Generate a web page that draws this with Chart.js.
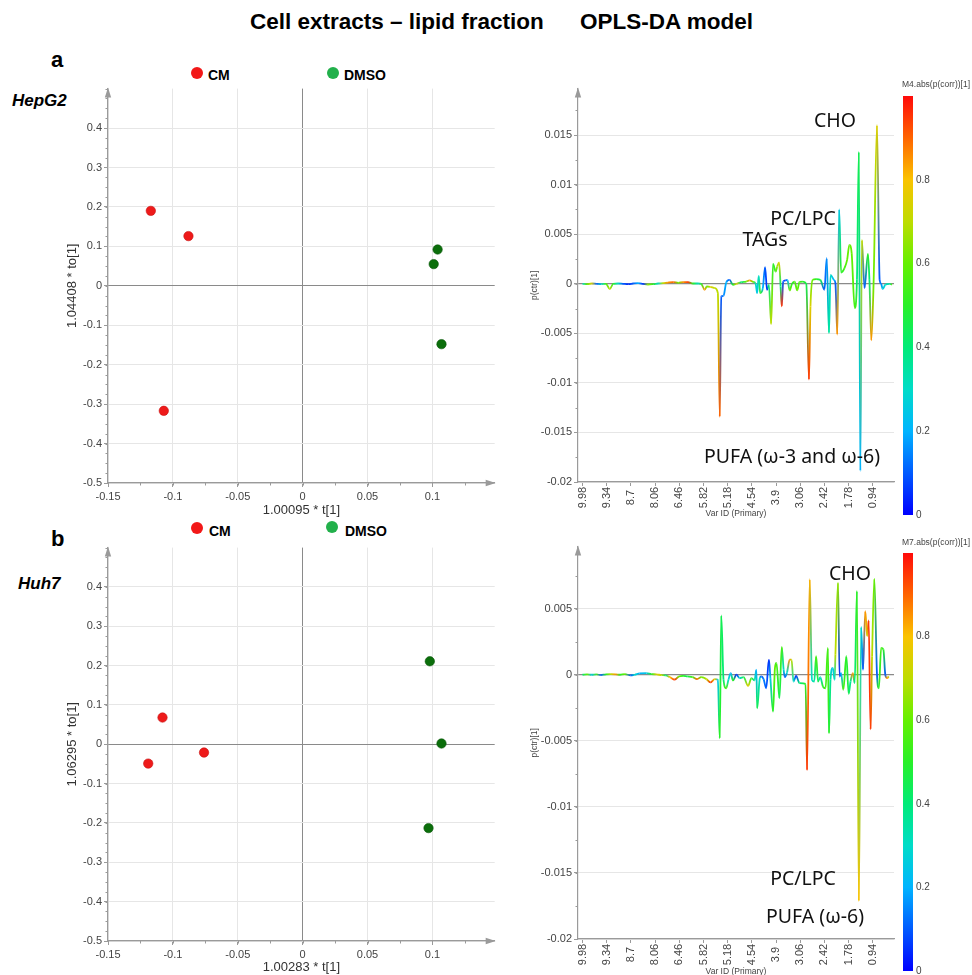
<!DOCTYPE html>
<html>
<head>
<meta charset="utf-8">
<script src="https://cdn.jsdelivr.net/npm/chart.js@4.4.1/dist/chart.umd.min.js"></script>
<style>
  html, body { margin: 0; padding: 0; background: #fff; }
  body { width: 972px; height: 975px; position: relative; overflow: hidden; font-family: 'Liberation Sans', Arial, sans-serif; }
  canvas { position: absolute; }
  .t { position: absolute; white-space: nowrap; line-height: 1; color: #000; transform: translateY(-50%); }
  .title { font-weight: bold; font-size: 22.5px; }
  .panel { font-weight: bold; font-size: 22px; }
  .cell { font-weight: bold; font-style: italic; font-size: 17px; }
  .leg { font-weight: bold; font-size: 14px; }
  .dot { position: absolute; width: 12px; height: 12px; border-radius: 50%; transform: translate(-50%, -50%); }
  .ann { position: absolute; white-space: nowrap; font-family: 'Noto Sans', sans-serif; font-size: 19.5px; line-height: 1; color: #111; transform: translate(-50%, -50%); }
</style>
</head>
<body>
<div class="t title" style="left:250px; top:22px">Cell extracts – lipid fraction</div>
<div class="t title" style="left:580px; top:22px">OPLS-DA model</div>

<div class="t panel" style="left:51px; top:60px">a</div>
<div class="t cell" style="left:12px; top:100px">HepG2</div>
<div class="dot" style="left:197px; top:73px; background:#f21818"></div>
<div class="t leg" style="left:208px; top:75px">CM</div>
<div class="dot" style="left:333px; top:73px; background:#22b04b"></div>
<div class="t leg" style="left:344px; top:75px">DMSO</div>

<div class="t panel" style="left:51px; top:539px">b</div>
<div class="t cell" style="left:18px; top:583px">Huh7</div>
<div class="dot" style="left:197px; top:528px; background:#f21818"></div>
<div class="t leg" style="left:209px; top:531px">CM</div>
<div class="dot" style="left:332px; top:527px; background:#22b04b"></div>
<div class="t leg" style="left:345px; top:531px">DMSO</div>

<canvas id="scoreA" width="500" height="450" style="left:0px; top:80px"></canvas>
<canvas id="loadA" width="472" height="450" style="left:500px; top:80px"></canvas>
<canvas id="scoreB" width="500" height="436" style="left:0px; top:539px"></canvas>
<canvas id="loadB" width="472" height="455" style="left:500px; top:538px"></canvas>

<div class="ann" style="left:835px; top:120px">CHO</div>
<div class="ann" style="left:803px; top:218px">PC/LPC</div>
<div class="ann" style="left:765px; top:239px">TAGs</div>
<div class="ann" style="left:792px; top:456px">PUFA (ω-3 and ω-6)</div>
<div class="ann" style="left:850px; top:573px">CHO</div>
<div class="ann" style="left:803px; top:878px">PC/LPC</div>
<div class="ann" style="left:815px; top:916px">PUFA (ω-6)</div>

<script>
// ---------- data ----------
const scoreXTicks = [-0.15, -0.1, -0.05, 0, 0.05, 0.1];
const scoreXLabels = ['-0.15', '-0.1', '-0.05', '0', '0.05', '0.1'];
const scoreYTicks = [-0.5, -0.4, -0.3, -0.2, -0.1, 0, 0.1, 0.2, 0.3, 0.4];
const scoreYLabels = ['-0.5', '-0.4', '-0.3', '-0.2', '-0.1', '0', '0.1', '0.2', '0.3', '0.4'];

// HepG2 scores
const hepCmX = [-0.117, -0.088, -0.107];
const hepCmY = [0.190, 0.126, -0.317];
const hepDmsoX = [0.104, 0.101, 0.107];
const hepDmsoY = [0.092, 0.055, -0.148];
// Huh7 scores
const huhCmX = [-0.108, -0.076, -0.119];
const huhCmY = [0.068, -0.021, -0.049];
const huhDmsoX = [0.098, 0.107, 0.097];
const huhDmsoY = [0.211, 0.002, -0.213];

// loadings: variable (bucket) index on x, labelled with ppm
const varIdTicks = [0, 64, 128, 192, 256, 320, 384, 448, 512, 576, 640, 704, 768];
const varIdLabels = ['9.98', '9.34', '8.7', '8.06', '6.46', '5.82', '5.18', '4.54', '3.9', '3.06', '2.42', '1.78', '0.94'];
const hepLoadYTicks = [-0.02, -0.015, -0.01, -0.005, 0, 0.005, 0.01, 0.015];
const hepLoadYLabels = ['-0.02', '-0.015', '-0.01', '-0.005', '0', '0.005', '0.01', '0.015'];
const huhLoadYTicks = [-0.02, -0.015, -0.01, -0.005, 0, 0.005];
const huhLoadYLabels = ['-0.02', '-0.015', '-0.01', '-0.005', '0', '0.005'];
const corrBarTicks = [0, 0.2, 0.4, 0.6, 0.8];
const corrBarLabels = ['0', '0.2', '0.4', '0.6', '0.8'];

const hepVar = [0, 12, 24, 37, 50, 62, 72, 81, 94, 107, 121, 134, 147, 160, 173, 187, 200, 213, 226, 240,
  253, 266, 279, 292, 306, 314, 323, 329, 338, 350, 358, 363, 367, 373, 380, 389, 398, 407, 420, 433,
  442, 451, 458, 462, 466, 470, 477, 483, 488, 493, 499, 504, 511, 515, 520, 524, 527, 531, 537, 542,
  548, 554, 561, 568, 574, 583, 592, 599, 603, 609, 618, 629, 640, 646, 652, 656, 665, 669, 674, 679,
  684, 693, 700, 706, 712, 720, 726, 731, 735, 739, 746, 755, 759, 764, 770, 779, 786, 790, 794, 801,
  812, 819];
const hepPctr = [0, -0.00003, 0.00003, 0, -0.00003, 0, -0.00054, 0, 0.00003, 0, -0.00003, 0.00003, 0.00007, 0, -0.00007, -0.00003, 0.00003, 0.00007, 0.00013, 0.00017,
  0.0001, 0.00017, 0.00017, 0.00003, 0.00003, 0, -0.0006, -0.00027, -0.0003, -0.00044, -0.00094, -0.01342, -0.00128, -0.00121, 0.00013, 0.0004, -0.0001, 0, 0.00017, 0.00023,
  0.00034, 0.0002, 0, -0.00094, 0.00081, -0.00094, -0.00044, 0.00168, -0.0006, -0.0001, -0.00406, 0.00201, 0.00124, 0.00175, 0.00215, -0.00027, -0.00228, 0.00023, 0.00034, 0.0004,
  -0.00067, 0, 0.00023, -0.00067, 0.0002, 0.00023, 0, -0.00967, -0.00228, 0.0004, 0.00047, 0.0004, -0.0006, 0.00258, -0.00497, 0.00091, 0.0004, 0.00007, -0.00513, 0.00752,
  0.00114, 0.00158, 0.00242, 0.00393, 0.00309, -0.00245, 0.0004, 0.01332, -0.01889, 0.00443, -0.00044, 0.00302, 0.0004, -0.00571, 0.00007, 0.01601, 0.0004, 0, -0.00054, -0.0001,
  0, -0.00007];
const hepCorr = [0.3, 0.6, 0.75, 0.1, 0.3, 0.55, 0.7, 0.5, 0.3, 0.1, 0.05, 0.1, 0.2, 0.05, 0.65, 0.5, 0.3, 0.7, 0.85, 0.9,
  0.6, 0.85, 0.95, 0.5, 0.3, 0.5, 0.85, 0.6, 0.75, 0.7, 0.7, 0.9, 0.1, 0.15, 0.2, 0.1, 0.5, 0.75, 0.4, 0.6,
  0.85, 0.6, 0.3, 0.25, 0.3, 0.5, 0.2, 0.1, 0.05, 0.4, 0.7, 0.5, 0.55, 0.65, 0.75, 0.4, 0.95, 0.1, 0.05, 0.2,
  0.6, 0.5, 0.55, 0.6, 0.55, 0.5, 0.45, 0.95, 0.75, 0.6, 0.5, 0.45, 0.1, 0.15, 0.35, 0.3, 0.2, 0.1, 0.85, 0.25,
  0.5, 0.55, 0.6, 0.6, 0.6, 0.55, 0.4, 0.45, 0.2, 0.7, 0.1, 0.5, 0.4, 0.85, 0.6, 0.75, 0.1, 0.15, 0.25, 0.3,
  0.35, 0.6];

const huhVar = [0, 12, 24, 37, 48, 62, 75, 88, 99, 112, 127, 138, 151, 169, 182, 196, 209, 220, 231, 244,
  255, 266, 277, 291, 303, 314, 328, 338, 350, 358, 363, 367, 373, 380, 386, 392, 398, 407, 416, 426,
  438, 447, 455, 460, 462, 469, 473, 479, 486, 493, 497, 504, 509, 513, 521, 527, 532, 535, 541, 548,
  553, 558, 565, 574, 590, 594, 601, 607, 613, 618, 623, 629, 636, 643, 649, 652, 656, 662, 667, 669,
  676, 680, 684, 690, 698, 704, 709, 715, 720, 726, 731, 737, 742, 748, 753, 757, 762, 766, 772, 779,
  784, 790, 796, 801, 806, 810];
const huhPctr = [0, 0.00003, 0, 0.00003, -0.00003, 0.00003, 0.00005, 0.00003, 0, 0.00005, -0.00005, 0, 0.0001, 0.00013, 0.00005, 0.00003, -0.00003, -0.00005, -0.00018, -0.00036,
  -0.00013, -0.00008, -0.00013, -0.00018, -0.00033, -0.00018, -0.00033, -0.00058, -0.00033, -0.00038, -0.00482, 0.00449, -0.00038, -0.00102, -0.00038, 0.00013, -0.00043, 0, -0.00025, -0.00018,
  -0.00084, -0.00025, -0.00043, 0.00038, -0.00254, -0.00025, -0.00013, -0.00033, -0.00102, 0.00114, -0.00025, -0.00279, 0.00051, 0.00089, -0.00178, 0.00211, 0.00038, -0.00018, 0.00018, 0.00114,
  0.00114, -0.00051, -0.00008, -0.00063, -0.00069, -0.00723, 0.00723, -0.00038, -0.00051, 0.0014, -0.00051, -0.00018, -0.00089, -0.00102, 0.00203, -0.00444, -0.00038, 0.00051, -0.00038, 0.00152,
  0.00698, -0.00013, 0.00013, -0.00114, 0.0014, -0.00145, -0.00051, 0.00013, -0.00063, 0.00635, -0.01713, 0.00363, 0.00038, 0.00482, 0.00292, 0.00411, -0.00414, 0.0014, 0.00728, 0,
  -0.00102, 0.00203, 0.0019, 0, -0.00025, -0.00013];
const huhCorr = [0.4, 0.6, 0.25, 0.55, 0.1, 0.5, 0.7, 0.85, 0.5, 0.6, 0.1, 0.3, 0.2, 0.25, 0.5, 0.75, 0.7, 0.4, 0.8, 0.95,
  0.6, 0.5, 0.45, 0.55, 0.9, 0.6, 0.7, 0.95, 0.75, 0.25, 0.5, 0.45, 0.4, 0.55, 0.3, 0.2, 0.5, 0.05, 0.3, 0.45,
  0.75, 0.5, 0.35, 0.2, 0.45, 0.3, 0.1, 0.15, 0.1, 0.05, 0.25, 0.5, 0.6, 0.55, 0.45, 0.55, 0.3, 0.1, 0.3, 0.85,
  0.7, 0.3, 0.05, 0.4, 0.5, 0.95, 0.82, 0.3, 0.35, 0.55, 0.45, 0.3, 0.5, 0.55, 0.55, 0.5, 0.35, 0.25, 0.3, 0.7,
  0.65, 0.05, 0.2, 0.55, 0.5, 0.45, 0.35, 0.85, 0.4, 0.5, 0.8, 0.3, 0.1, 0.85, 0.75, 0.95, 0.95, 0.7, 0.6, 0.1,
  0.5, 0.55, 0.5, 0.1, 0.85, 0.7];

// ---------- colour map for abs(p(corr)) ----------
const cmapStops = [
  [0.0, 0, 0, 255], [0.1, 0, 90, 255], [0.2, 0, 180, 255], [0.3, 0, 220, 200],
  [0.4, 0, 235, 120], [0.5, 40, 240, 40], [0.6, 100, 240, 0], [0.7, 190, 220, 0],
  [0.8, 250, 195, 0], [0.9, 255, 100, 0], [1.0, 255, 10, 10]
];
function cmap(v) {
  v = Math.max(0, Math.min(1, v));
  for (let i = 1; i < cmapStops.length; i++) {
    const a = cmapStops[i - 1], b = cmapStops[i];
    if (v <= b[0]) {
      const t = (v - a[0]) / (b[0] - a[0]);
      const c = [1, 2, 3].map(k => Math.round(a[k] + (b[k] - a[k]) * t));
      return 'rgb(' + c.join(',') + ')';
    }
  }
  return 'rgb(255,10,10)';
}

const AXIS = '#9a9a9a';
const ZERO = '#8a8a8a';
const GRID = '#e6e6e6';

// minor ticks + arrow heads
const axisDeco = {
  id: 'axisDeco',
  afterDraw(chart, args, o) {
    const { ctx, chartArea: a, scales: { x, y } } = chart;
    ctx.save();
    ctx.strokeStyle = AXIS;
    ctx.fillStyle = AXIS;
    ctx.lineWidth = 1;
    ctx.beginPath();
    if (o.yMinor) {
      for (let i = 0; ; i++) {
        const v = y.min + i * o.yMinor;
        if (v > y.max + 1e-9) break;
        const py = Math.round(y.getPixelForValue(v)) + 0.5;
        ctx.moveTo(a.left - 2.5, py); ctx.lineTo(a.left, py);
      }
    }
    if (o.xMinor) {
      for (let i = 0; ; i++) {
        const v = x.min + i * o.xMinor;
        if (v > x.max + 1e-9) break;
        const px = Math.round(x.getPixelForValue(v)) + 0.5;
        ctx.moveTo(px, a.bottom); ctx.lineTo(px, a.bottom + 2.5);
      }
    }
    ctx.stroke();
    // arrow up on the y axis
    ctx.beginPath();
    ctx.moveTo(a.left, a.top - 1);
    ctx.lineTo(a.left - 3.2, a.top + 9);
    ctx.lineTo(a.left + 3.2, a.top + 9);
    ctx.closePath();
    ctx.fill();
    if (o.arrowX) {
      ctx.beginPath();
      ctx.moveTo(a.right + 1, a.bottom);
      ctx.lineTo(a.right - 9, a.bottom - 3.2);
      ctx.lineTo(a.right - 9, a.bottom + 3.2);
      ctx.closePath();
      ctx.fill();
    }
    ctx.restore();
  }
};

// centred, vertical var id labels
const varLabels = {
  id: 'varLabels',
  afterDraw(chart) {
    const { ctx, chartArea: a, scales: { x } } = chart;
    ctx.save();
    ctx.fillStyle = '#444';
    ctx.font = '11px "Liberation Sans", Arial, sans-serif';
    ctx.textAlign = 'center';
    ctx.textBaseline = 'middle';
    varIdTicks.forEach((v, i) => {
      ctx.save();
      ctx.translate(x.getPixelForValue(v), a.bottom + 15.5);
      ctx.rotate(-Math.PI / 2);
      ctx.fillText(varIdLabels[i], 0, 0);
      ctx.restore();
    });
    ctx.restore();
  }
};

const colorBar = {
  id: 'colorBar',
  afterDraw(chart, args, o) {
    const ctx = chart.ctx;
    const g = ctx.createLinearGradient(0, o.y1, 0, o.y0);
    cmapStops.forEach(s => g.addColorStop(s[0], 'rgb(' + s[1] + ',' + s[2] + ',' + s[3] + ')'));
    ctx.save();
    ctx.fillStyle = g;
    ctx.fillRect(o.x0, o.y0, o.x1 - o.x0, o.y1 - o.y0);
    ctx.fillStyle = '#444';
    ctx.font = '10px "Liberation Sans", Arial, sans-serif';
    ctx.textAlign = 'left';
    ctx.textBaseline = 'middle';
    corrBarTicks.forEach((v, i) => ctx.fillText(corrBarLabels[i], o.x1 + 3, o.y1 - v * (o.y1 - o.y0)));
    ctx.font = '8.5px "Liberation Sans", Arial, sans-serif';
    ctx.fillText(o.title, o.x0 - 1, o.titleY);
    ctx.restore();
  }
};

function setTicks(list) {
  return s => { s.ticks = list.map(v => ({ value: v })); };
}

function scoreChart(id, box, area, xTitle, yTitle, cmX, cmY, dmX, dmY) {
  new Chart(document.getElementById(id), {
    type: 'scatter',
    data: {
      datasets: [
        { label: 'CM', data: cmX.map((v, i) => ({ x: v, y: cmY[i] })), backgroundColor: '#ee1a1a', borderColor: '#c81010', borderWidth: 0.6, pointRadius: 4.7 },
        { label: 'DMSO', data: dmX.map((v, i) => ({ x: v, y: dmY[i] })), backgroundColor: '#0b6e0b', borderColor: '#075507', borderWidth: 0.6, pointRadius: 4.7 }
      ]
    },
    options: {
      responsive: false,
      animation: false,
      layout: { padding: { left: 0, top: area.top - box.top, right: box.left + box.w - area.right, bottom: 0 } },
      plugins: {
        legend: { display: false },
        tooltip: { enabled: false },
        axisDeco: { xMinor: 0.025, yMinor: 0.025, arrowX: true }
      },
      scales: {
        x: {
          type: 'linear', min: -0.15, max: 0.148,
          afterBuildTicks: setTicks(scoreXTicks),
          afterFit: s => { s.height = box.top + box.h - area.bottom; },
          ticks: { callback: (v, i) => scoreXLabels[i], font: { size: 11 }, color: '#444', padding: 3, maxRotation: 0, autoSkip: false },
          grid: { color: c => (c.tick && c.tick.value === 0 ? ZERO : GRID), tickLength: 4, tickColor: AXIS },
          border: { color: AXIS, width: 1.2 },
          title: { display: true, text: xTitle, font: { size: 13 }, color: '#333', padding: { top: 0, bottom: area.xTitlePad } }
        },
        y: {
          type: 'linear', min: -0.5, max: 0.5,
          afterBuildTicks: setTicks(scoreYTicks),
          afterFit: s => { s.width = area.left - box.left; },
          ticks: { callback: (v, i) => scoreYLabels[i], font: { size: 11 }, color: '#444', padding: 2, autoSkip: false },
          grid: { color: c => (c.tick && c.tick.value === 0 ? ZERO : GRID), tickLength: 4, tickColor: AXIS },
          border: { color: AXIS, width: 1.2 },
          title: { display: true, text: yTitle, font: { size: 13 }, color: '#333', padding: { top: 65, bottom: 0 } }
        }
      }
    },
    plugins: [axisDeco]
  });
}

function loadChart(id, box, area, bar, yMax, yTicks, yLabels, xs, ys, cs) {
  const cv = document.getElementById(id);
  const c2d = cv.getContext('2d');
  new Chart(cv, {
    type: 'line',
    data: {
      datasets: [{
        data: xs.map((v, i) => ({ x: v, y: ys[i] })),
        borderWidth: 1.8,
        pointRadius: 0,
        cubicInterpolationMode: 'monotone',
        borderColor: cmap(cs[0]),
        segment: {
          borderColor: sc => {
            const g = c2d.createLinearGradient(sc.p0.x, sc.p0.y, sc.p1.x, sc.p1.y + 0.01);
            g.addColorStop(0, cmap(cs[sc.p0DataIndex]));
            g.addColorStop(1, cmap(cs[sc.p1DataIndex]));
            return g;
          }
        }
      }]
    },
    options: {
      responsive: false,
      animation: false,
      layout: { padding: { left: 0, top: area.top - box.top, right: box.left + box.w - area.right, bottom: 0 } },
      plugins: {
        legend: { display: false },
        tooltip: { enabled: false },
        axisDeco: { yMinor: 0.0025, arrowX: false },
        colorBar: {
          x0: bar.left - box.left, x1: bar.right - box.left,
          y0: bar.top - box.top, y1: bar.bottom - box.top,
          titleY: bar.titleY - box.top, title: bar.title
        }
      },
      scales: {
        x: {
          type: 'linear', min: -12, max: 824,
          afterBuildTicks: setTicks(varIdTicks),
          afterFit: s => { s.height = box.top + box.h - area.bottom; },
          ticks: { display: false },
          grid: { drawOnChartArea: false, tickLength: 4, tickColor: AXIS },
          border: { color: AXIS, width: 1.2 },
          title: { display: true, text: 'Var ID (Primary)', font: { size: 8.5 }, color: '#444', padding: { top: 0, bottom: area.xTitlePad } }
        },
        y: {
          type: 'linear', min: -0.02, max: yMax,
          afterBuildTicks: setTicks(yTicks),
          afterFit: s => { s.width = area.left - box.left; },
          ticks: { callback: (v, i) => yLabels[i], font: { size: 11 }, color: '#444', padding: 2, autoSkip: false },
          grid: { color: c => (c.tick && c.tick.value === 0 ? ZERO : GRID), lineWidth: c => (c.tick && c.tick.value === 0 ? 1.3 : 1), tickLength: 4, tickColor: AXIS },
          border: { color: AXIS, width: 1.2 },
          title: { display: true, text: 'p(ctr)[1]', font: { size: 8.5 }, color: '#444', padding: { top: 30, bottom: 0 } }
        }
      }
    },
    plugins: [axisDeco, varLabels, colorBar]
  });
}

scoreChart('scoreA', { left: 0, top: 80, w: 500, h: 450 }, { left: 108, top: 86, right: 498, bottom: 483, xTitlePad: 12 },
  '1.00095 * t[1]', '1.04408 * to[1]', hepCmX, hepCmY, hepDmsoX, hepDmsoY);
scoreChart('scoreB', { left: 0, top: 539, w: 500, h: 436 }, { left: 108, top: 545, right: 498, bottom: 941, xTitlePad: 0 },
  '1.00283 * t[1]', '1.06295 * to[1]', huhCmX, huhCmY, huhDmsoX, huhDmsoY);

loadChart('loadA', { left: 500, top: 80, w: 472, h: 450 }, { left: 578, top: 88, right: 894, bottom: 482, xTitlePad: 11 },
  { left: 903, right: 913, top: 96, bottom: 515, titleY: 85, title: 'M4.abs(p(corr))[1]' },
  0.0197, hepLoadYTicks, hepLoadYLabels, hepVar, hepPctr, hepCorr);
loadChart('loadB', { left: 500, top: 538, w: 472, h: 455 }, { left: 578, top: 546, right: 894, bottom: 939, xTitlePad: 16 },
  { left: 903, right: 913, top: 553, bottom: 971, titleY: 543, title: 'M7.abs(p(corr))[1]' },
  0.0097, huhLoadYTicks, huhLoadYLabels, huhVar, huhPctr, huhCorr);
</script>
</body>
</html>
